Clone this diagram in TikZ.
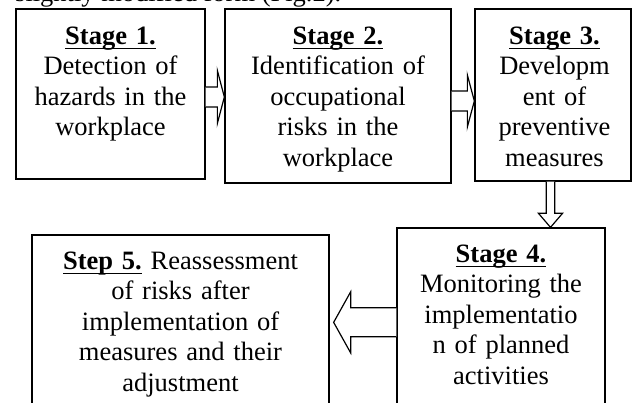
\documentclass[tikz,border=0pt]{standalone}
\usepackage{fontspec}
\setmainfont{Liberation Serif}
\usetikzlibrary{positioning,calc}

\newsavebox{\headbox}
\newcommand{\stagehead}[1]{\sbox{\headbox}{\textbf{#1}}\rlap{\rule[-4.5pt]{\wd\headbox}{1.3pt}}\usebox{\headbox}}

\begin{document}
\begin{tikzpicture}[
    x=1pt, y=-1pt,
    box/.style={draw, rectangle, line width=1.3pt, inner sep=0pt},
    txt/.style={font=\fontsize{26.5}{30.5}\selectfont, align=center, text width=#1, inner sep=0pt, anchor=base},
    txt/.default=200pt,
    blockarrow/.style={draw, line width=1.2pt, fill=white, line join=miter}
]
\useasboundingbox (0,0) rectangle (633,403);
\clip (0,0) rectangle (633,403);

% text line above the figure (cut off)
\node[font=\fontsize{26.5}{30.5}\selectfont, inner sep=0pt, anchor=base west] (cap) at (15,2) {slightly modified form (Fig.2).};

% Stage 1
\node[box, minimum width=189pt, minimum height=170pt] (s1) at (110.5,94) {};
\node[txt=185pt] (t1) at ([yshift=-36pt]s1.north) {
    \stagehead{Stage 1.}\\
    Detection of\\
    hazards in the\\
    workplace
};

% Stage 2
\node[box, minimum width=226pt, minimum height=174pt] (s2) at (338,96) {};
\node[txt=222pt] (t2) at ([yshift=-36pt]s2.north) {
    \stagehead{Stage 2.}\\
    Identification of\\
    occupational\\
    risks in the\\
    workplace
};

% Stage 3
\node[box, minimum width=156pt, minimum height=172pt] (s3) at (553,95) {};
\node[txt=152pt] (t3) at ([yshift=-36pt,xshift=1.5pt]s3.north) {
    \stagehead{Stage 3.}\\
    Developm\\
    ent of\\
    preventive\\
    measures
};

% Stage 4
\node[box, minimum width=208pt, minimum height=200pt] (s4) at (501,328) {};
\node[txt=204pt] (t4) at ([yshift=-35pt]s4.north) {
    \stagehead{Stage 4.}\\
    Monitoring the\\
    implementatio\\
    n of planned\\
    activities
};

% Step 5
\node[box, minimum width=297pt, minimum height=200pt] (s5) at (180.5,335) {};
\node[txt=293pt] (t5) at ([yshift=-35pt]s5.north) {
    \stagehead{Step 5.} Reassessment\\
    of risks after\\
    implementation of\\
    measures and their\\
    adjustment
};

% Arrows
\coordinate (tip12) at ([yshift=-1pt]s2.west);
\draw[blockarrow] ($(s1.east |- tip12)+(0,-10)$) -- ($(tip12)+(-7,-10)$) -- ($(tip12)+(-7,-26.5)$)
    -- (tip12) -- ($(tip12)+(-7,26.5)$) -- ($(tip12)+(-7,10)$) -- ($(s1.east |- tip12)+(0,10)$);

\coordinate (tip23) at ([yshift=-6pt]s3.west);
\draw[blockarrow] ($(s2.east |- tip23)+(0,-10)$) -- ($(tip23)+(-7,-10)$) -- ($(tip23)+(-7,-26)$)
    -- (tip23) -- ($(tip23)+(-7,26)$) -- ($(tip23)+(-7,10)$) -- ($(s2.east |- tip23)+(0,10)$);

\path (s3.south |- s4.north) ++(-2.5,0) coordinate (tip34);
\draw[blockarrow] ($(tip34 |- s3.south)+(-4.2,0)$) -- ($(tip34)+(-4.2,-14)$) -- ($(tip34)+(-12,-14)$)
    -- (tip34) -- ($(tip34)+(12,-14)$) -- ($(tip34)+(4.2,-14)$) -- ($(tip34 |- s3.south)+(4.2,0)$);

\path (s4.north west) ++(0,95) coordinate (a45);
\path (s5.east |- a45) ++(4,0) coordinate (tip45);
\draw[blockarrow] ($(a45)+(0,-14.5)$) -- ($(tip45)+(17,-14.5)$) -- ($(tip45)+(17,-30.5)$)
    -- (tip45) -- ($(tip45)+(17,30.5)$) -- ($(tip45)+(17,14.5)$) -- ($(a45)+(0,14.5)$);

\end{tikzpicture}
\end{document}
